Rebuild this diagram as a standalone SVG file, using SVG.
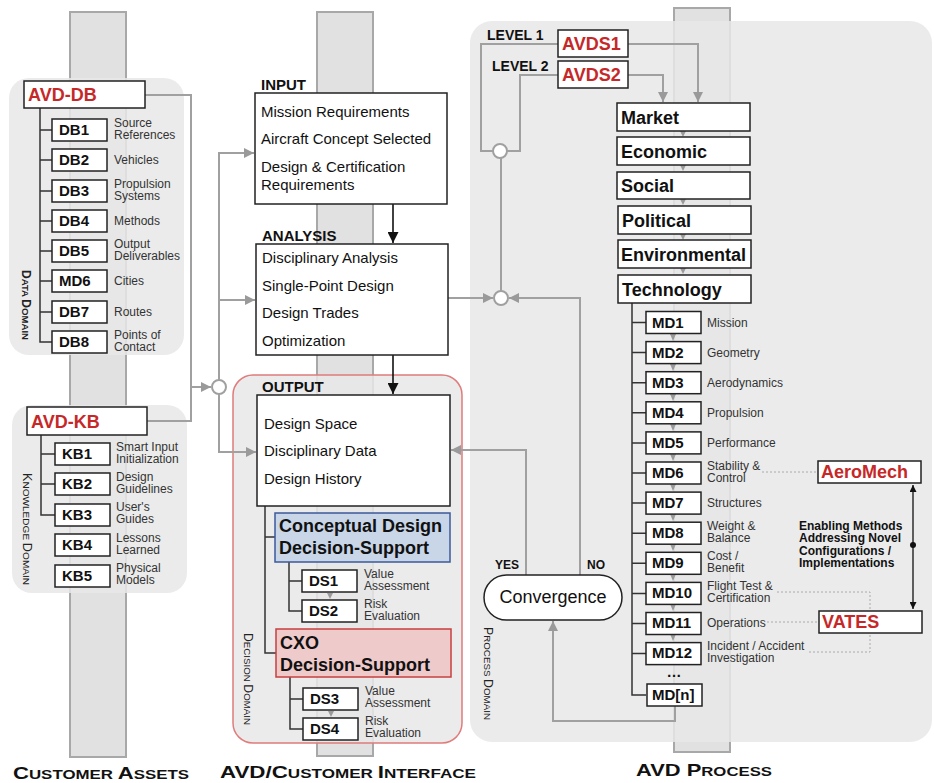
<svg xmlns="http://www.w3.org/2000/svg" width="934" height="783" viewBox="0 0 934 783">
  <style>
    text { font-family: 'Liberation Sans', Arial, Helvetica, sans-serif; }
    .pillar { fill: #e1e1e1; stroke: #a8a8a8; stroke-width: 2; }
    .panel { fill: #e7e7e7; fill-opacity: 0.85; }
    .box { fill: #ffffff; stroke: #222222; stroke-width: 1.5; }
    .tree { fill: none; stroke: #333333; stroke-width: 1.5; }
    .gl { fill: none; stroke: #a0a0a0; stroke-width: 2; }
    .dot { fill: none; stroke: #aaaaaa; stroke-width: 1; stroke-dasharray: 2 2; }
    .node { font-weight: bold; font-size: 15px; fill: #111111; }
    .lab { font-size: 12px; fill: #333333; }
    .red { font-weight: bold; font-size: 18px; fill: #c62828; }
    .dom { font-weight: bold; font-size: 18px; fill: #111111; }
    .item { font-size: 15px; fill: #111111; }
    .head { font-weight: bold; font-size: 15px; fill: #111111; }
    .lvl { font-weight: bold; font-size: 14px; fill: #111111; }
    .note { font-weight: bold; font-size: 12px; fill: #111111; }
    .sc { font-size: 12px; fill: #222222; }
    .title { font-weight: bold; fill: #111111; }
    .tri { fill: #9a9a9a; }
    .junc { fill: #ffffff; stroke: #a0a0a0; stroke-width: 2; }
  </style>
  <defs>
    <marker id="ga" viewBox="0 0 10 10" refX="10" refY="5" markerWidth="11" markerHeight="10" markerUnits="userSpaceOnUse" orient="auto">
      <path d="M0,0 L10,5 L0,10 z" fill="#9a9a9a"/>
    </marker>
    <marker id="ba" viewBox="0 0 10 10" refX="10" refY="5" markerWidth="11" markerHeight="11" markerUnits="userSpaceOnUse" orient="auto">
      <path d="M0,0 L10,5 L0,10 z" fill="#111111"/>
    </marker>
    <marker id="bs" viewBox="0 0 10 10" refX="10" refY="5" markerWidth="8" markerHeight="7" markerUnits="userSpaceOnUse" orient="auto-start-reverse">
      <path d="M0,0 L10,5 L0,10 z" fill="#111111"/>
    </marker>
  </defs>

  <rect width="934" height="783" fill="#ffffff"/>

  <!-- columns -->
  <g id="columns">
    <rect class="pillar" x="70" y="12" width="56" height="745"/>
    <rect class="pillar" x="317" y="12" width="56" height="744"/>
    <rect class="pillar" x="674" y="8" width="56" height="744"/>
  </g>

  <!-- domain panels -->
  <g id="panels">
    <rect class="panel" x="9" y="78" width="175" height="277" rx="20"/>
    <rect class="panel" x="12" y="405" width="175" height="188" rx="20"/>
    <rect class="panel" x="233" y="375" width="229" height="368" rx="20" stroke="#e07c7c" stroke-width="1.5"/>
    <rect class="panel" x="470" y="21" width="462" height="721" rx="22"/>
  </g>

  <!-- domain labels (small caps) -->
  <g id="domain-labels">
    <text class="sc" font-weight="bold" transform="translate(22,270) rotate(90)" textLength="70" lengthAdjust="spacingAndGlyphs">D<tspan font-size="9.5">ATA </tspan>D<tspan font-size="9.5">OMAIN</tspan></text>
    <text class="sc" transform="translate(23,473) rotate(90)" textLength="112" lengthAdjust="spacingAndGlyphs">K<tspan font-size="9.5">NOWLEDGE </tspan>D<tspan font-size="9.5">OMAIN</tspan></text>
    <text class="sc" transform="translate(244,633) rotate(90)" textLength="92" lengthAdjust="spacingAndGlyphs">D<tspan font-size="9.5">ECISION </tspan>D<tspan font-size="9.5">OMAIN</tspan></text>
    <text class="sc" transform="translate(484,627) rotate(90)" textLength="93" lengthAdjust="spacingAndGlyphs">P<tspan font-size="9.5">ROCESS </tspan>D<tspan font-size="9.5">OMAIN</tspan></text>
  </g>

  <!-- connectors -->
  <g id="connectors">
    <!-- customer assets feed -->
    <path class="gl" d="M145,95 H191 V421 H147"/>
    <path class="gl" d="M191,387 H211" marker-end="url(#ga)"/>
    <path class="gl" d="M219,452 V153 H254" marker-end="url(#ga)"/>
    <path class="gl" d="M219,300 H255" marker-end="url(#ga)"/>
    <path class="gl" d="M219,387 V452 H256" marker-end="url(#ga)"/>
    <!-- interface flow -->
    <path fill="none" stroke="#111" stroke-width="1.6" d="M393,204 V243" marker-end="url(#ba)"/>
    <path fill="none" stroke="#111" stroke-width="1.6" d="M393,355 V394" marker-end="url(#ba)"/>
    <!-- analysis to process junction -->
    <path class="gl" d="M448,298 H493" marker-end="url(#ga)"/>
    <path class="gl" d="M580,575 V298 H509" marker-end="url(#ga)"/>
    <path class="gl" d="M526,575 V450 H451" marker-end="url(#ga)"/>
    <path class="gl" d="M501,291 V158"/>
    <!-- level feeds -->
    <path class="gl" d="M558,44 H481 V151 H493"/>
    <path class="gl" d="M558,75 H520 V151 H507"/>
    <path class="gl" d="M628,44 H698 V102" marker-end="url(#ga)"/>
    <path class="gl" d="M628,75 H663 V102" marker-end="url(#ga)"/>
    <!-- return to convergence -->
    <path class="gl" d="M675,706 V721 H553 V621" marker-end="url(#ga)"/>
    <!-- enabling methods links -->
    <path class="dot" d="M762,472 H818"/>
    <path class="dot" d="M777,592 H870 V652 H808"/>
    <path class="dot" d="M767,622 H819"/>
    <path fill="none" stroke="#111" stroke-width="1.3" d="M913,485 V609" marker-start="url(#bs)" marker-end="url(#bs)"/>
    <circle cx="913" cy="545" r="3" fill="#111"/>
    <!-- trees -->
    <path class="tree" d="M40,108 V342 H52 M40,130 H52 M40,160 H52 M40,191 H52 M40,221 H52 M40,251 H52 M40,281 H52 M40,312 H52"/>
    <path class="tree" d="M41,435 V515 H55 M41,454 H55 M41,484 H55"/>
    <path class="tree" d="M265,506 V653 H276 M265,537 H275"/>
    <path class="tree" d="M289,562 V611 H302 M289,581 H302"/>
    <path class="tree" d="M290,677 V729 H303 M290,699 H303"/>
    <path class="tree" d="M632,303 V695 H646 M632,322.5 H646 M632,352.6 H646 M632,382.7 H646 M632,412.8 H646 M632,442.9 H646 M632,473 H646 M632,503.1 H646 M632,533.2 H646 M632,563.3 H646 M632,593.4 H646 M632,623.5 H646 M632,653.6 H646"/>
    <!-- small step arrows -->
    <g class="tri">
      <polygon points="680,131 686,131 683,137"/>
      <polygon points="680,165 686,165 683,171"/>
      <polygon points="680,199 686,199 683,205"/>
      <polygon points="680,234 686,234 683,240"/>
      <polygon points="680,268 686,268 683,274"/>
      <polygon points="670,334 676,334 673,341"/>
      <polygon points="670,364 676,364 673,371"/>
      <polygon points="670,394 676,394 673,401"/>
      <polygon points="670,424 676,424 673,431"/>
      <polygon points="670,454 676,454 673,461"/>
      <polygon points="670,484 676,484 673,491"/>
      <polygon points="670,514 676,514 673,521"/>
      <polygon points="670,544 676,544 673,551"/>
      <polygon points="670,574 676,574 673,581"/>
      <polygon points="670,604 676,604 673,611"/>
      <polygon points="670,634 676,634 673,641"/>
      <polygon points="327,593 333,593 330,599"/>
      <polygon points="328,711 334,711 331,717"/>
    </g>
    <circle class="junc" cx="219" cy="387" r="7"/>
    <circle class="junc" cx="501" cy="298" r="7"/>
    <circle class="junc" cx="500" cy="151" r="7"/>
  </g>

  <!-- customer assets: data -->
  <g id="avd-db">
    <rect class="box" x="24" y="81" width="121" height="27"/>
    <text class="red" x="28" y="101">AVD-DB</text>
  </g>
  <g id="db1"><rect class="box" x="52" y="119" width="55" height="22"/><text class="node" x="59" y="135">DB1</text><text class="lab" x="114" y="127">Source</text><text class="lab" x="114" y="139">References</text></g>
  <g id="db2"><rect class="box" x="52" y="149" width="55" height="22"/><text class="node" x="59" y="165">DB2</text><text class="lab" x="114" y="164">Vehicles</text></g>
  <g id="db3"><rect class="box" x="52" y="180" width="55" height="22"/><text class="node" x="59" y="196">DB3</text><text class="lab" x="114" y="188">Propulsion</text><text class="lab" x="114" y="200">Systems</text></g>
  <g id="db4"><rect class="box" x="52" y="210" width="55" height="22"/><text class="node" x="59" y="226">DB4</text><text class="lab" x="114" y="225">Methods</text></g>
  <g id="db5"><rect class="box" x="52" y="240" width="55" height="22"/><text class="node" x="59" y="256">DB5</text><text class="lab" x="114" y="248">Output</text><text class="lab" x="114" y="260">Deliverables</text></g>
  <g id="md6-cities"><rect class="box" x="52" y="270" width="55" height="22"/><text class="node" x="59" y="286">MD6</text><text class="lab" x="114" y="285">Cities</text></g>
  <g id="db7"><rect class="box" x="52" y="301" width="55" height="22"/><text class="node" x="59" y="317">DB7</text><text class="lab" x="114" y="316">Routes</text></g>
  <g id="db8"><rect class="box" x="52" y="331" width="55" height="22"/><text class="node" x="59" y="347">DB8</text><text class="lab" x="114" y="339">Points of</text><text class="lab" x="114" y="351">Contact</text></g>

  <!-- customer assets: knowledge -->
  <g id="avd-kb">
    <rect class="box" x="27" y="407" width="120" height="28"/>
    <text class="red" x="31" y="428">AVD-KB</text>
  </g>
  <g id="kb1"><rect class="box" x="55" y="443" width="55" height="22"/><text class="node" x="62" y="459">KB1</text><text class="lab" x="116" y="451">Smart Input</text><text class="lab" x="116" y="463">Initialization</text></g>
  <g id="kb2"><rect class="box" x="55" y="473" width="55" height="22"/><text class="node" x="62" y="489">KB2</text><text class="lab" x="116" y="481">Design</text><text class="lab" x="116" y="493">Guidelines</text></g>
  <g id="kb3"><rect class="box" x="55" y="504" width="55" height="22"/><text class="node" x="62" y="520">KB3</text><text class="lab" x="116" y="511">User's</text><text class="lab" x="116" y="523">Guides</text></g>
  <g id="kb4"><rect class="box" x="55" y="534" width="55" height="22"/><text class="node" x="62" y="550">KB4</text><text class="lab" x="116" y="542">Lessons</text><text class="lab" x="116" y="554">Learned</text></g>
  <g id="kb5"><rect class="box" x="55" y="565" width="55" height="22"/><text class="node" x="62" y="581">KB5</text><text class="lab" x="116" y="572">Physical</text><text class="lab" x="116" y="584">Models</text></g>

  <!-- interface -->
  <g id="input">
    <text class="head" x="261" y="90">INPUT</text>
    <rect class="box" x="255" y="93" width="192" height="111"/>
    <text class="item" x="261" y="117">Mission Requirements</text>
    <text class="item" x="261" y="144">Aircraft Concept Selected</text>
    <text class="item" x="261" y="172">Design &amp; Certification</text>
    <text class="item" x="261" y="190">Requirements</text>
  </g>
  <g id="analysis">
    <text class="head" x="262" y="241">ANALYSIS</text>
    <rect class="box" x="256" y="244" width="192" height="111"/>
    <text class="item" x="262" y="263">Disciplinary Analysis</text>
    <text class="item" x="262" y="291">Single-Point Design</text>
    <text class="item" x="262" y="318">Design Trades</text>
    <text class="item" x="262" y="346">Optimization</text>
  </g>
  <g id="output">
    <text class="head" x="262" y="392">OUTPUT</text>
    <rect class="box" x="257" y="395" width="193" height="111"/>
    <text class="item" x="264" y="429">Design Space</text>
    <text class="item" x="264" y="456">Disciplinary Data</text>
    <text class="item" x="264" y="484">Design History</text>
  </g>
  <g id="conceptual-ds">
    <rect x="275" y="513" width="175" height="49" fill="#c8d6e8" stroke="#3b5a9a" stroke-width="1.5"/>
    <text class="dom" x="279" y="532">Conceptual Design</text>
    <text class="dom" x="279" y="554">Decision-Support</text>
  </g>
  <g id="ds1"><rect class="box" x="302" y="570" width="55" height="22"/><text class="node" x="309" y="586">DS1</text><text class="lab" x="364" y="578">Value</text><text class="lab" x="364" y="590">Assessment</text></g>
  <g id="ds2"><rect class="box" x="302" y="600" width="55" height="22"/><text class="node" x="309" y="616">DS2</text><text class="lab" x="364" y="608">Risk</text><text class="lab" x="364" y="620">Evaluation</text></g>
  <g id="cxo-ds">
    <rect x="276" y="629" width="175" height="48" fill="#efcaca" stroke="#c84040" stroke-width="1.5"/>
    <text class="dom" x="280" y="649">CXO</text>
    <text class="dom" x="280" y="671">Decision-Support</text>
  </g>
  <g id="ds3"><rect class="box" x="303" y="688" width="55" height="22"/><text class="node" x="310" y="704">DS3</text><text class="lab" x="365" y="695">Value</text><text class="lab" x="365" y="707">Assessment</text></g>
  <g id="ds4"><rect class="box" x="303" y="718" width="55" height="22"/><text class="node" x="310" y="734">DS4</text><text class="lab" x="365" y="725">Risk</text><text class="lab" x="365" y="737">Evaluation</text></g>

  <!-- process -->
  <g id="levels">
    <text class="lvl" x="487" y="40">LEVEL 1</text>
    <text class="lvl" x="492" y="71">LEVEL 2</text>
  </g>
  <g id="avds1"><rect class="box" x="558" y="30" width="70" height="27"/><text class="red" x="562" y="50">AVDS1</text></g>
  <g id="avds2"><rect class="box" x="558" y="61" width="70" height="27"/><text class="red" x="562" y="81">AVDS2</text></g>
  <g id="market"><rect class="box" x="617" y="103" width="133" height="28"/><text class="dom" x="621" y="124">Market</text></g>
  <g id="economic"><rect class="box" x="617" y="137" width="133" height="28"/><text class="dom" x="621" y="158">Economic</text></g>
  <g id="social"><rect class="box" x="617" y="172" width="133" height="27"/><text class="dom" x="621" y="192">Social</text></g>
  <g id="political"><rect class="box" x="618" y="206" width="133" height="28"/><text class="dom" x="622" y="227">Political</text></g>
  <g id="environmental"><rect class="box" x="618" y="240" width="133" height="28"/><text class="dom" x="621" y="261">Environmental</text></g>
  <g id="technology"><rect class="box" x="618" y="275" width="133" height="28"/><text class="dom" x="622" y="296">Technology</text></g>

  <g id="md1"><rect class="box" x="646" y="311.5" width="55" height="22"/><text class="node" x="652" y="328">MD1</text><text class="lab" x="707" y="327">Mission</text></g>
  <g id="md2"><rect class="box" x="646" y="341.6" width="55" height="22"/><text class="node" x="652" y="358">MD2</text><text class="lab" x="707" y="357">Geometry</text></g>
  <g id="md3"><rect class="box" x="646" y="371.7" width="55" height="22"/><text class="node" x="652" y="388">MD3</text><text class="lab" x="707" y="387">Aerodynamics</text></g>
  <g id="md4"><rect class="box" x="646" y="401.8" width="55" height="22"/><text class="node" x="652" y="418">MD4</text><text class="lab" x="707" y="417">Propulsion</text></g>
  <g id="md5"><rect class="box" x="646" y="431.9" width="55" height="22"/><text class="node" x="652" y="448">MD5</text><text class="lab" x="707" y="447">Performance</text></g>
  <g id="md6"><rect class="box" x="646" y="462" width="55" height="22"/><text class="node" x="652" y="478">MD6</text><text class="lab" x="707" y="470">Stability &amp;</text><text class="lab" x="707" y="482">Control</text></g>
  <g id="md7"><rect class="box" x="646" y="492.1" width="55" height="22"/><text class="node" x="652" y="508">MD7</text><text class="lab" x="707" y="507">Structures</text></g>
  <g id="md8"><rect class="box" x="646" y="522.2" width="55" height="22"/><text class="node" x="652" y="538">MD8</text><text class="lab" x="707" y="530">Weight &amp;</text><text class="lab" x="707" y="542">Balance</text></g>
  <g id="md9"><rect class="box" x="646" y="552.3" width="55" height="22"/><text class="node" x="652" y="568">MD9</text><text class="lab" x="707" y="560">Cost /</text><text class="lab" x="707" y="572">Benefit</text></g>
  <g id="md10"><rect class="box" x="646" y="582.4" width="55" height="22"/><text class="node" x="652" y="598">MD10</text><text class="lab" x="707" y="590">Flight Test &amp;</text><text class="lab" x="707" y="602">Certification</text></g>
  <g id="md11"><rect class="box" x="646" y="612.5" width="55" height="22"/><text class="node" x="652" y="628">MD11</text><text class="lab" x="707" y="627">Operations</text></g>
  <g id="md12"><rect class="box" x="646" y="642.6" width="55" height="22"/><text class="node" x="652" y="658">MD12</text><text class="lab" x="707" y="650">Incident / Accident</text><text class="lab" x="707" y="662">Investigation</text></g>
  <g id="md-ellipsis"><text class="node" x="674" y="677" text-anchor="middle">…</text></g>
  <g id="mdn"><rect class="box" x="647" y="684" width="55" height="22"/><text class="node" x="652" y="700">MD[n]</text></g>

  <g id="aeromech"><rect class="box" x="818" y="461" width="103" height="22"/><text class="red" x="821" y="478">AeroMech</text></g>
  <g id="vates"><rect class="box" x="819" y="611" width="103" height="22"/><text class="red" x="822" y="628">VATES</text></g>
  <g id="enabling">
    <text class="note" x="799" y="530">Enabling Methods</text>
    <text class="note" x="799" y="542">Addressing Novel</text>
    <text class="note" x="799" y="555">Configurations /</text>
    <text class="note" x="799" y="567">Implementations</text>
  </g>

  <g id="convergence">
    <rect x="484" y="575" width="138" height="45" rx="22.5" fill="#ffffff" stroke="#222" stroke-width="1.5"/>
    <text x="553" y="603" font-size="18" fill="#111" text-anchor="middle">Convergence</text>
    <text class="note" x="495" y="569">YES</text>
    <text class="note" x="587" y="569">NO</text>
  </g>

  <!-- column titles -->
  <g id="titles">
    <text class="title" x="13" y="779" font-size="17" textLength="176" lengthAdjust="spacingAndGlyphs">C<tspan font-size="13">USTOMER </tspan>A<tspan font-size="13">SSETS</tspan></text>
    <text class="title" x="220" y="778" font-size="17" textLength="256" lengthAdjust="spacingAndGlyphs">AVD/C<tspan font-size="13">USTOMER </tspan>I<tspan font-size="13">NTERFACE</tspan></text>
    <text class="title" x="636" y="776" font-size="17" textLength="136" lengthAdjust="spacingAndGlyphs">AVD P<tspan font-size="13">ROCESS</tspan></text>
  </g>
</svg>
